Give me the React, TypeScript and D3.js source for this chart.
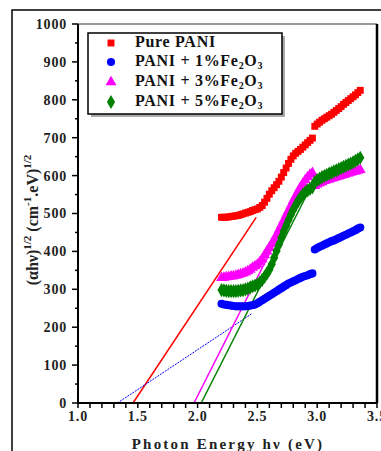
import React from 'react';
import * as d3 from 'd3';

// photon energy (eV) - first branch and second branch of the measurement
const energyA = [2.20, 2.22, 2.24, 2.26, 2.28, 2.30, 2.32, 2.34, 2.36, 2.38, 2.40, 2.42, 2.44, 2.46, 2.48,
  2.50, 2.52, 2.54, 2.56, 2.58, 2.60, 2.62, 2.64, 2.66, 2.68, 2.70, 2.72, 2.74, 2.76, 2.78, 2.80,
  2.82, 2.84, 2.86, 2.88, 2.90, 2.92, 2.94, 2.96];
const energyB = [2.98, 3.00, 3.02, 3.04, 3.06, 3.08, 3.10, 3.12, 3.14, 3.16, 3.18, 3.20, 3.22, 3.24,
  3.26, 3.28, 3.30, 3.32, 3.34, 3.36];

const pureA = [490, 490, 490, 491, 492, 493, 494, 495, 497, 499, 501, 503, 505, 508, 510,
  512, 516, 521, 530, 540, 551, 560, 568, 576, 585, 596, 608, 620, 632, 643, 652,
  659, 664, 669, 675, 681, 687, 693, 699];
const pureB = [730, 736, 741, 746, 750, 754, 758, 762, 767, 772, 777, 782, 788, 793, 798, 803, 808, 813, 819, 825];

const fe1A = [262, 260, 259, 258, 257, 256, 255, 255, 255, 255, 255, 256, 257, 258, 260,
  263, 267, 271, 275, 279, 283, 287, 291, 295, 299, 303, 307, 311, 315, 318, 321,
  324, 327, 330, 333, 335, 337, 340, 342];
const fe1B = [405, 409, 412, 415, 418, 421, 424, 427, 429, 432, 435, 438, 441, 444, 447, 450, 453, 456, 460, 463];

const fe3A = [330, 331, 332, 333, 334, 335, 336, 338, 340, 342, 345, 348, 352, 357, 361,
  365, 372, 380, 390, 400, 410, 420, 431, 443, 456, 469, 482, 495, 508, 521, 534,
  546, 558, 569, 579, 588, 596, 603, 607];
const fe3B = [573, 577, 580, 583, 586, 588, 590, 592, 594, 596, 598, 600, 602, 604, 606, 608, 610, 611, 613, 615];

const fe5A = [298, 297, 296, 295, 295, 295, 295, 296, 297, 298, 300, 302, 305, 308, 310,
  313, 318, 325, 333, 342, 352, 366, 383, 401, 418, 436, 453, 468, 483, 497, 510,
  522, 533, 542, 550, 556, 561, 565, 569];
const fe5B = [583, 588, 592, 596, 599, 602, 605, 608, 611, 614, 617, 620, 623, 626, 629, 632, 635, 639, 643, 647];

// Tauc extrapolation lines: [[E0, 0], [E1, v1]]
const fitPure = [[1.46, 0], [2.49, 490]];
const fitFe1 = [[1.33, 0], [2.45, 235]];
const fitFe3 = [[1.97, 0], [2.93, 600]];
const fitFe5 = [[2.03, 0], [2.93, 560]];

const xTicks = [1.0, 1.5, 2.0, 2.5, 3.0, 3.5];
const yTicks = [0, 100, 200, 300, 400, 500, 600, 700, 800, 900, 1000];

const serif = '"Liberation Serif", "Times New Roman", serif';

export default function App() {
  const left = 78, right = 377, top = 24, bottom = 403;
  const x = d3.scaleLinear().domain([1.0, 3.5]).range([left, right]);
  const y = d3.scaleLinear().domain([0, 1000]).range([bottom, top]);

  const series = [
    { a: pureA, b: pureB, fit: fitPure, color: '#ff0000', sym: d3.symbolSquare, size: 48, dash: undefined },
    { a: fe1A, b: fe1B, fit: fitFe1, color: '#0000ff', sym: d3.symbolCircle, size: 52, dash: '2,1' },
    { a: fe3A, b: fe3B, fit: fitFe3, color: '#ff00ff', sym: d3.symbolTriangle, size: 52, dash: undefined },
    { a: fe5A, b: fe5B, fit: fitFe5, color: '#008000', sym: d3.symbolDiamond, size: 58, dash: undefined },
  ];

  const line = d3.line<number[]>().x(d => x(d[0])).y(d => y(d[1]));
  const minorX = d3.range(10, 36).map(v => v / 10);
  const minorY = d3.range(50, 1000, 100);

  const legendRows = [
    { label: 'Pure PANI', sub: false },
    { label: 'PANI + 1%', sub: true },
    { label: 'PANI + 3%', sub: true },
    { label: 'PANI + 5%', sub: true },
  ];
  const legendY = [43, 62, 82, 102];

  return (
    <svg width={381} height={451} style={{ position: 'absolute', left: 0, top: 0 }} fontFamily={serif}>
      <rect width={381} height={451} fill="#fff" />
      {/* outer frame */}
      <path d="M12,451 L12,10 L381,10" fill="none" stroke="#000" strokeWidth={1.5} />
      {/* plot frame */}
      <line x1={left} x2={right} y1={top} y2={top} stroke="#777" strokeWidth={1.5} />
      <line x1={right} x2={right} y1={top} y2={bottom} stroke="#000" strokeWidth={2.5} />

      {/* fit lines */}
      {series.map((s, i) => (
        <path key={'f' + i} d={line(s.fit) || ''} fill="none" stroke={s.color}
          strokeWidth={i === 1 ? 1 : 1.5} strokeDasharray={s.dash} />
      ))}

      {/* data markers */}
      {series.map((s, i) => {
        const path = d3.symbol().type(s.sym).size(s.size)() || '';
        const pts = [...s.a.map((v, j) => [energyA[j], v]), ...s.b.map((v, j) => [energyB[j], v])];
        return (
          <g key={'s' + i} fill={s.color}>
            {pts.map((p, j) => (
              <path key={j} d={path} transform={`translate(${x(p[0])},${y(p[1])})`} />
            ))}
          </g>
        );
      })}

      {/* axes */}
      <line x1={left} x2={left} y1={top} y2={bottom + 1} stroke="#000" strokeWidth={2} />
      <line x1={left - 1} x2={right} y1={bottom} y2={bottom} stroke="#000" strokeWidth={2} />
      {minorX.map(v => (
        <line key={'mx' + v} x1={x(v)} x2={x(v)} y1={bottom} y2={bottom + 5} stroke="#000" strokeWidth={1.5} />
      ))}
      {yTicks.map(v => (
        <line key={'ty' + v} x1={left - 6} x2={left} y1={y(v)} y2={y(v)} stroke="#000" strokeWidth={1.5} />
      ))}
      {minorY.map(v => (
        <line key={'my' + v} x1={left - 3} x2={left} y1={y(v)} y2={y(v)} stroke="#000" strokeWidth={1.5} />
      ))}
      {yTicks.map(v => (
        <text key={'ly' + v} x={left - 11} y={y(v)} dy="0.35em" textAnchor="end" fontSize={14}
          fontWeight="bold" letterSpacing={0.8} fill="#222">{v}</text>
      ))}
      {xTicks.map(v => (
        <text key={'lx' + v} x={x(v)} y={421} textAnchor="middle" fontSize={14}
          fontWeight="bold" letterSpacing={0.8} fill="#222">{v.toFixed(1)}</text>
      ))}
      <text x={228} y={449} textAnchor="middle" fontSize={15} fontWeight="bold" letterSpacing={2.2} fill="#222">
        Photon Energy  hν  (eV)
      </text>
      <text transform="translate(38,220) rotate(-90)" textAnchor="middle" fontSize={16} fontWeight="bold" fill="#222">
        (αhν)<tspan dy={-7} fontSize={11}>1/2</tspan><tspan dy={7}> (cm</tspan>
        <tspan dy={-7} fontSize={11}>-1</tspan><tspan dy={7}>.eV)</tspan>
        <tspan dy={-7} fontSize={11}>1/2</tspan>
      </text>

      {/* legend */}
      <rect x={91} y={36} width={194} height={81} fill="#aaa" />
      <rect x={88} y={33} width={194} height={81} fill="#fff" stroke="#000" strokeWidth={1.5} />
      {legendRows.map((r, i) => {
        const s = series[i];
        const path = d3.symbol().type(s.sym).size(s.size)() || '';
        return (
          <g key={'lg' + i}>
            <path d={path} fill={s.color} transform={`translate(111,${legendY[i]})`} />
            <text x={135} y={legendY[i] + 4} fontSize={16} fontWeight="bold" fill="#111" letterSpacing={0.7}>
              {r.label}
              {r.sub && (
                <>
                  <tspan>Fe</tspan>
                  <tspan dy={3} fontSize={10}>2</tspan>
                  <tspan dy={-3}>O</tspan>
                  <tspan dy={3} fontSize={10}>3</tspan>
                </>
              )}
            </text>
          </g>
        );
      })}
    </svg>
  );
}
